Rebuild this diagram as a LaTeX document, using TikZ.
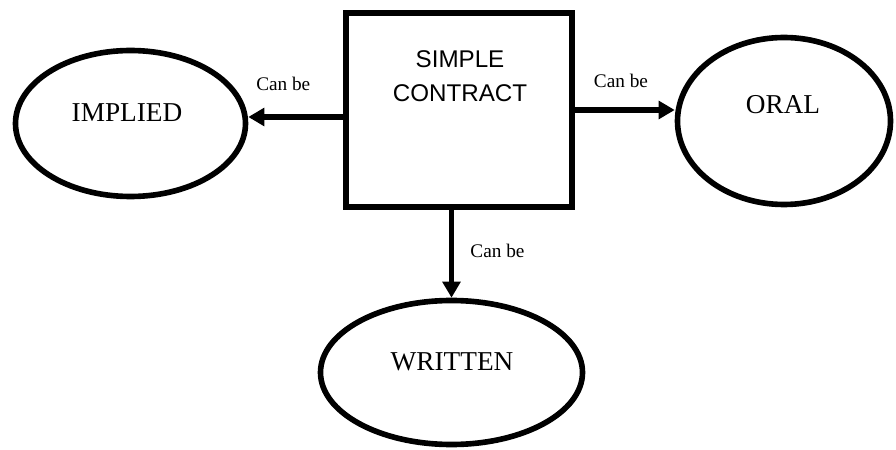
\documentclass[tikz,border=0pt]{standalone}
\usepackage{fontspec}
\setmainfont{Liberation Serif}
\newfontfamily\arialfont{Liberation Sans}
\usetikzlibrary{positioning,arrows.meta,shapes.geometric}

\begin{document}
\begin{tikzpicture}[
    oval/.style={ellipse,draw,line width=4pt,inner sep=0pt},
    link/.style={line width=4pt,-{Triangle[length=0.4cm,width=0.44cm]}},
    canbe/.style={font=\fontsize{13.7}{16}\selectfont,inner sep=0pt},
    word/.style={font=\fontsize{19.4}{22}\selectfont,inner sep=0pt}]
  \useasboundingbox (0,0) rectangle (22.4,11.225);
  % the contract box
  \node[draw,line width=4.6pt,minimum width=5.65cm,minimum height=4.85cm,inner sep=0pt] (contract) at (11.475,8.475) {};
  \node[align=center,inner sep=0pt,font=\arialfont\fontsize{17.2}{24}\selectfont] (contract-txt) at (11.5,9.325) {SIMPLE\\CONTRACT};
  % the three forms
  \node[oval,minimum width=5.75cm,minimum height=3.65cm] (implied) at (3.2625,8.1375) {};
  \node[word] (implied-txt) at (3.175,8.4) {IMPLIED};
  \node[oval,minimum width=5.325cm,minimum height=4.175cm] (oral) at (19.6,8.2) {};
  \node[word] (oral-txt) at (19.575,8.6) {ORAL};
  \node[oval,minimum width=6.55cm,minimum height=3.6cm] (written) at (11.2875,1.9125) {};
  \node[word] (written-txt) at (11.3,2.175) {WRITTEN};
  % arrows
  \draw[link] (contract.west |- 0,8.3) -- (implied.east |- 0,8.3)
    node[canbe,pos=0.63,yshift=0.825cm] (can-implied) {Can be};
  \draw[link] (contract.east |- 0,8.475) -- (oral.west |- 0,8.475)
    node[canbe,pos=0.46,yshift=0.725cm] (can-oral) {Can be};
  \draw[link] (contract.south -| written.north) -- (written.north)
    node[canbe,pos=0.46,xshift=1.15cm] (can-written) {Can be};
\end{tikzpicture}
\end{document}
